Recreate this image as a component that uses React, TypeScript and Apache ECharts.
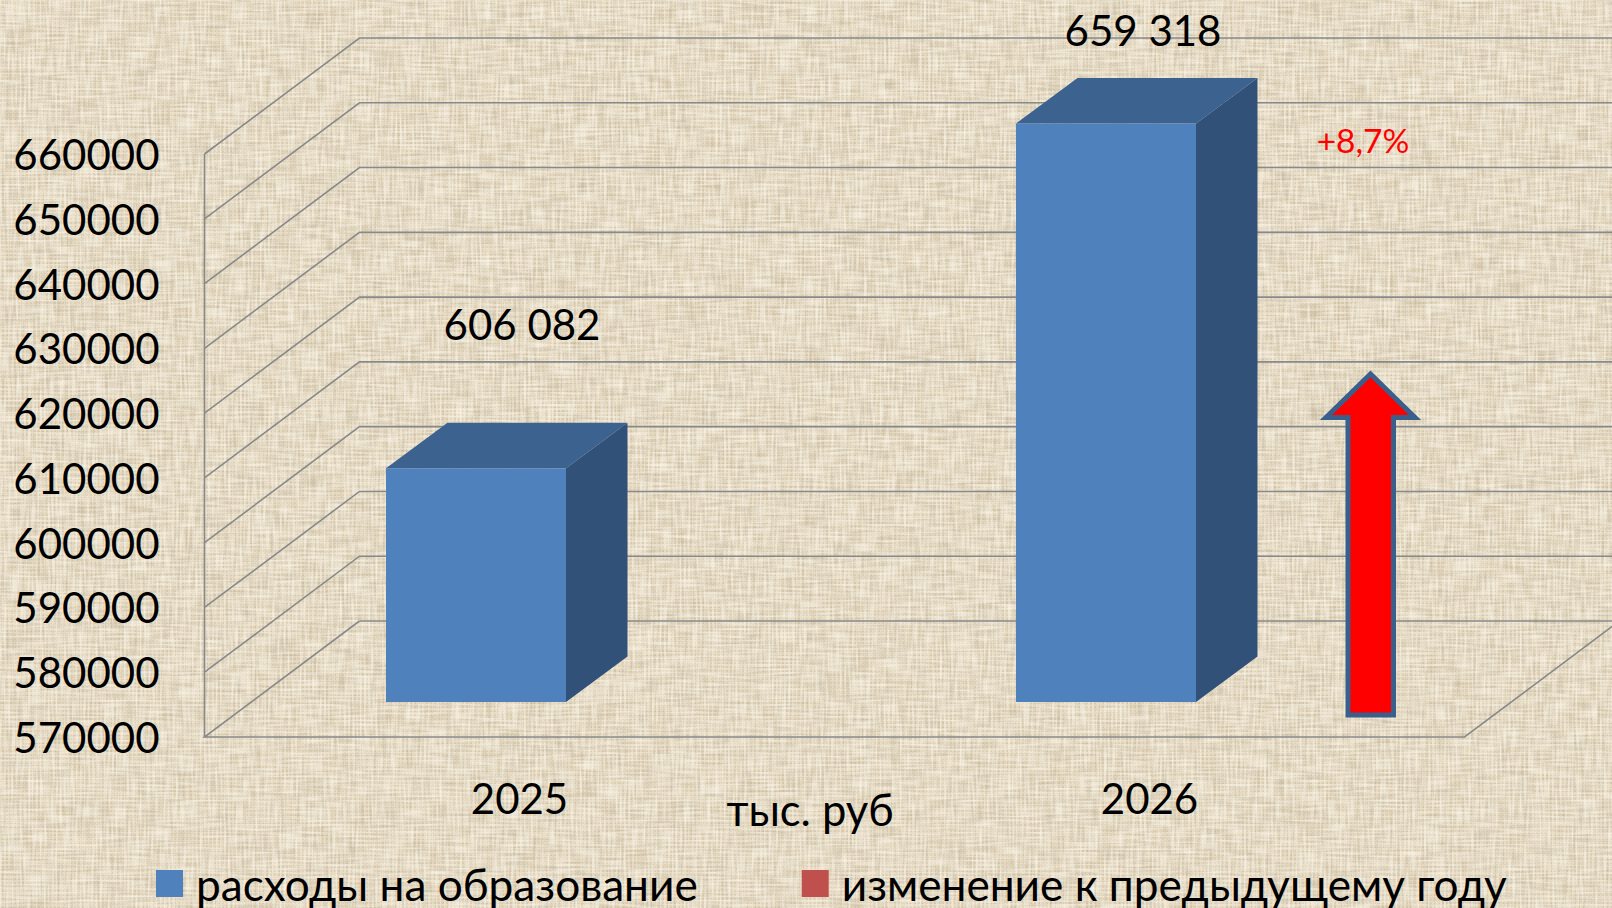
import React, { useEffect, useRef } from "react";
import * as echarts from "echarts";

const years = ["2025", "2026"];
const spending = [606082, 659318];
const wallTicks = [580000, 590000, 600000, 610000, 620000, 630000, 640000, 650000, 660000];
const seriesNames = ["расходы на образование", "изменение к предыдущему году"];
const unitText = "тыс. руб";
const changeText = "+8,7%";

const FONT = "Lato, 'Open Sans', sans-serif";
const DEPTH_X = 155;
const DEPTH_Y = 116;
const GRID_COLOR = "#88898B";

function textureUrl() {
  const svg = `<svg xmlns="http://www.w3.org/2000/svg" width="1612" height="908">
  <defs><pattern id="w" width="4" height="4" patternUnits="userSpaceOnUse"><rect width="4" height="4" fill="none"/><rect x="0" y="0" width="1.2" height="4" fill="#F6ECD8" opacity="0.35"/><rect x="0" y="0" width="4" height="1.2" fill="#F6ECD8" opacity="0.35"/><rect x="2.4" y="2.4" width="1.6" height="1.6" fill="#AE9C7C" opacity="0.25"/></pattern></defs>
  <filter id="v" x="0" y="0" width="100%" height="100%"><feTurbulence type="fractalNoise" baseFrequency="0.42 0.03" numOctaves="1" seed="4"/><feColorMatrix values="0 0 0 0 0.52  0 0 0 0 0.45  0 0 0 0 0.32  0 0 0 3 -1.3"/></filter>
  <filter id="h" x="0" y="0" width="100%" height="100%"><feTurbulence type="fractalNoise" baseFrequency="0.03 0.42" numOctaves="1" seed="9"/><feColorMatrix values="0 0 0 0 0.52  0 0 0 0 0.45  0 0 0 0 0.32  0 0 0 3 -1.3"/></filter>
  <filter id="l" x="0" y="0" width="100%" height="100%"><feTurbulence type="fractalNoise" baseFrequency="0.45 0.04" numOctaves="1" seed="15"/><feColorMatrix values="0 0 0 0 0.98  0 0 0 0 0.94  0 0 0 0 0.85  0 0 0 3 -1.3"/></filter>
  <filter id="m" x="0" y="0" width="100%" height="100%"><feTurbulence type="fractalNoise" baseFrequency="0.04 0.45" numOctaves="1" seed="21"/><feColorMatrix values="0 0 0 0 0.98  0 0 0 0 0.94  0 0 0 0 0.85  0 0 0 3 -1.3"/></filter>
  <rect width="1612" height="908" fill="#E3D6BC"/>
  <rect width="1612" height="908" fill="url(#w)"/>
  <rect width="1612" height="908" filter="url(#v)" opacity="0.45"/>
  <rect width="1612" height="908" filter="url(#h)" opacity="0.45"/>
  <rect width="1612" height="908" filter="url(#l)" opacity="0.55"/>
  <rect width="1612" height="908" filter="url(#m)" opacity="0.55"/>
  </svg>`;
  return `url("data:image/svg+xml,${encodeURIComponent(svg)}")`;
}

function formatValue(v: number) {
  const s = String(v);
  return s.slice(0, s.length - 3) + " " + s.slice(-3);
}

export default function App() {
  const ref = useRef<HTMLDivElement>(null);
  useEffect(() => {
    const chart = echarts.init(ref.current!, undefined, { renderer: "svg" });
    const line = { stroke: GRID_COLOR, lineWidth: 1.6, fill: "none" };
    chart.setOption({
      animation: false,
      backgroundColor: "transparent",
      textStyle: { fontFamily: FONT },
      grid: { left: 204.5, right: 147.5, top: 154, height: 583, containLabel: false },
      xAxis: {
        type: "category",
        data: years,
        axisLine: { show: false },
        axisTick: { show: false },
        axisLabel: { color: "#000", fontSize: 42, fontFamily: FONT, margin: 40 },
      },
      yAxis: {
        type: "value",
        min: 570000,
        max: 660000,
        interval: 10000,
        axisLine: { show: false },
        axisTick: { show: false },
        splitLine: { show: false },
        axisLabel: {
          color: "#000",
          fontSize: 42,
          fontFamily: FONT,
          margin: 45,
          formatter: (v: number) => String(v),
        },
      },
      legend: {
        left: 156,
        top: 856.5,
        padding: 0,
        itemWidth: 27,
        itemHeight: 27,
        itemGap: 104,
        icon: "rect",
        textStyle: {
          color: "#000",
          fontSize: 44.2,
          lineHeight: 40,
          fontFamily: FONT,
          padding: [0, 0, 14, 8],
        },
        data: seriesNames,
      },
      series: [
        {
          type: "custom",
          name: "walls",
          silent: true,
          encode: { x: 0, y: 1 },
          data: wallTicks.map((v) => [0, v]),
          renderItem: (params: any, api: any) => {
            const y = api.coord([0, api.value(1)])[1];
            const cs = params.coordSys;
            return {
              type: "polyline",
              shape: {
                points: [
                  [cs.x, y],
                  [cs.x + DEPTH_X, y - DEPTH_Y],
                  [cs.x + cs.width + DEPTH_X, y - DEPTH_Y],
                ],
              },
              style: line,
            };
          },
        },
        {
          type: "custom",
          name: "floor",
          silent: true,
          encode: { x: 0, y: 1 },
          data: [[0, 570000]],
          renderItem: (params: any, api: any) => {
            const y = api.coord([0, api.value(1)])[1];
            const cs = params.coordSys;
            return {
              type: "group",
              children: [
                {
                  type: "polyline",
                  shape: {
                    points: [
                      [cs.x + DEPTH_X, y - DEPTH_Y],
                      [cs.x, y],
                      [cs.x + cs.width, y],
                      [cs.x + cs.width + DEPTH_X, y - DEPTH_Y],
                    ],
                  },
                  style: line,
                },
                {
                  type: "polyline",
                  shape: {
                    points: [
                      [cs.x + DEPTH_X, y - DEPTH_Y],
                      [cs.x + cs.width + DEPTH_X, y - DEPTH_Y],
                    ],
                  },
                  style: line,
                },
                {
                  type: "line",
                  shape: { x1: cs.x, y1: cs.y, x2: cs.x, y2: y },
                  style: { stroke: GRID_COLOR, lineWidth: 1.6 },
                },
              ],
            };
          },
        },
        {
          type: "custom",
          name: seriesNames[0],
          itemStyle: { color: "#4F81BD" },
          encode: { x: 0, y: 1 },
          data: spending.map((v, i) => [i, v]),
          renderItem: (_params: any, api: any) => {
            const top = api.coord([api.value(0), api.value(1)]);
            const base = api.coord([api.value(0), 570000]);
            const cx = top[0] - 43.5;
            const hw = 90;
            const dx = 61.5;
            const dy = 45.5;
            const lift = 35;
            const x0 = cx - hw;
            const x1 = cx + hw;
            const yT = top[1] - lift;
            const yB = base[1] - lift;
            return {
              type: "group",
              children: [
                {
                  type: "polygon",
                  shape: { points: [[x1, yT], [x1 + dx, yT - dy], [x1 + dx, yB - dy], [x1, yB]] },
                  style: { fill: "#315179" },
                },
                {
                  type: "polygon",
                  shape: { points: [[x0, yT], [x0 + dx, yT - dy], [x1 + dx, yT - dy], [x1, yT]] },
                  style: { fill: "#3C6290" },
                },
                {
                  type: "rect",
                  shape: { x: x0, y: yT, width: x1 - x0, height: yB - yT },
                  style: { fill: "#4F81BD" },
                },
              ],
            };
          },
        },
        {
          type: "bar",
          name: seriesNames[1],
          itemStyle: { color: "#C0504D" },
          data: [],
        },
      ],
      graphic: [
        {
          type: "polygon",
          z: 100,
          shape: {
            points: [
              [1370.5, 374],
              [1415, 417.5],
              [1393.5, 417.5],
              [1393.5, 715],
              [1348, 715],
              [1348, 417.5],
              [1326, 417.5],
            ],
          },
          style: { fill: "#FF0000", stroke: "#3A5F8B", lineWidth: 5, lineJoin: "miter" },
        },
        {
          type: "text",
          z: 100,
          x: 522,
          y: 324,
          style: {
            text: formatValue(spending[0]),
            fill: "#000",
            font: `42px ${FONT}`,
            textAlign: "center",
            textVerticalAlign: "middle",
          },
        },
        {
          type: "text",
          z: 100,
          x: 1143,
          y: 30,
          style: {
            text: formatValue(spending[1]),
            fill: "#000",
            font: `42px ${FONT}`,
            textAlign: "center",
            textVerticalAlign: "middle",
          },
        },
        {
          type: "text",
          z: 100,
          x: 810,
          y: 809,
          style: {
            text: unitText,
            fill: "#000",
            font: `43.5px ${FONT}`,
            textAlign: "center",
            textVerticalAlign: "middle",
          },
        },
        {
          type: "text",
          z: 100,
          x: 1363,
          y: 140,
          style: {
            text: changeText,
            fill: "#FF0000",
            font: `33.5px ${FONT}`,
            textAlign: "center",
            textVerticalAlign: "middle",
          },
        },
      ],
    });
    return () => chart.dispose();
  }, []);
  return (
    <div
      style={{
        position: "fixed",
        left: 0,
        top: 0,
        width: 1612,
        height: 908,
        overflow: "hidden",
        backgroundColor: "#E3D6BC",
        backgroundImage: textureUrl(),
      }}
    >
      <div ref={ref} style={{ width: 1612, height: 908 }} />
    </div>
  );
}
